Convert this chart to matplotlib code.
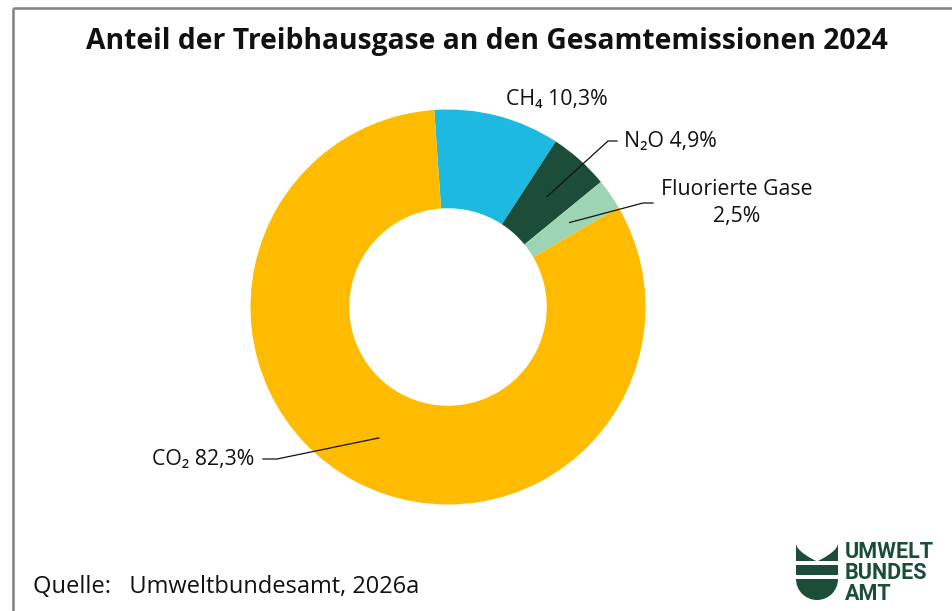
import numpy as np
import matplotlib
matplotlib.use("Agg")
import matplotlib.pyplot as plt
from matplotlib.patches import Polygon, Rectangle, Wedge

# data
gases = ["CH₄", "N₂O", "Fluorierte Gase", "CO₂"]
shares = [10.3, 4.9, 2.5, 82.3]
colors = ["#1EB9E1", "#1B4D38", "#9DD4B3", "#FFBB00"]

plt.rcParams["font.family"] = ["Open Sans", "DejaVu Sans"]

W, H = 953, 611
fig = plt.figure(figsize=(W / 100, H / 100), dpi=100)

# donut geometry in pixels
cx, cy, R = 448, 307, 197.5
start = 94

ax = fig.add_axes([(cx - R) / W, (H - cy - R) / H, 2 * R / W, 2 * R / H])
wedges, _ = ax.pie(shares, colors=colors, startangle=start, counterclock=False,
                   radius=1, wedgeprops=dict(width=0.5, linewidth=0))
ax.set_xlim(-1, 1)
ax.set_ylim(-1, 1)
ax.set_aspect("equal")
ax.axis("off")

# overlay in pixel coords
ov = fig.add_axes([0, 0, 1, 1], zorder=5)
ov.set_xlim(0, W)
ov.set_ylim(H, 0)
ov.axis("off")
ov.patch.set_alpha(0)

# frame
ov.plot([13, 13], [8, H], color="#808080", lw=1.8, solid_capstyle="butt")
ov.plot([13, W], [8, 8], color="#808080", lw=1.8, solid_capstyle="butt")

ov.text(487, 42, "Anteil der Treibhausgase an den Gesamtemissionen 2024",
        ha="center", va="center", fontsize=20.3, fontweight="bold", color="#111111")

# mid angles of wedges
cum = np.cumsum([0] + shares)
mids = [start - 3.6 * (cum[i] + cum[i + 1]) / 2 for i in range(len(shares))]

def inner_pt(i):
    a = np.deg2rad(mids[i])
    return cx + 0.75 * R * np.cos(a), cy - 0.75 * R * np.sin(a)

lab_fs = 15.3
ov.text(557, 100, f"{gases[0]} {shares[0]:.1f}%".replace(".", ","),
        ha="center", va="center", fontsize=lab_fs, color="#111111")

# N2O
x0, y0 = inner_pt(1)
ov.plot([x0, 608, 617], [y0, 141, 141], color="#111111", lw=0.9)
ov.text(624, 141, f"{gases[1]} {shares[1]:.1f}%".replace(".", ","),
        ha="left", va="center", fontsize=lab_fs, color="#111111")

# F-Gase
x0, y0 = inner_pt(2)
ov.plot([x0, 643, 653], [y0, 203, 203], color="#111111", lw=0.9)
ov.text(737, 203, f"{gases[2]}\n{shares[2]:.1f}%".replace(".", ","),
        ha="center", va="center", fontsize=lab_fs, color="#111111",
        linespacing=1.35)

# CO2
x0, y0 = inner_pt(3)
ov.plot([x0, 277, 263], [y0, 459, 459], color="#111111", lw=0.9)
ov.text(254, 460, f"{gases[3]} {shares[3]:.1f}%".replace(".", ","),
        ha="right", va="center", fontsize=lab_fs, color="#111111")

ov.text(33, 587, "Quelle:   Umweltbundesamt, 2026a", ha="left", va="center",
        fontsize=17, color="#111111")

# logo
green = "#1B4D38"
t = np.linspace(0, 1, 20)
left = [(796, 544)] + [(796 + 20 * s, 544 + 17 * s ** 0.6) for s in t] + [(796, 561)]
right = [(838, 544)] + [(838 - 20 * s, 544 + 17 * s ** 0.6) for s in t] + [(838, 561)]
ov.add_patch(Polygon(left, closed=True, color=green, lw=0))
ov.add_patch(Polygon(right, closed=True, color=green, lw=0))
ov.add_patch(Rectangle((796, 565), 42, 10, color=green, lw=0))
ov.add_patch(Wedge((817, 579), 21, 0, 180, color=green, lw=0))
ov.text(845, 573, "UMWELT\nBUNDES\nAMT", ha="left", va="center", fontsize=15.5,
        fontweight="bold", color=green, linespacing=0.92,
        family=["Liberation Sans Narrow", "Roboto", "DejaVu Sans"])

fig.savefig("out.png", dpi=100)
